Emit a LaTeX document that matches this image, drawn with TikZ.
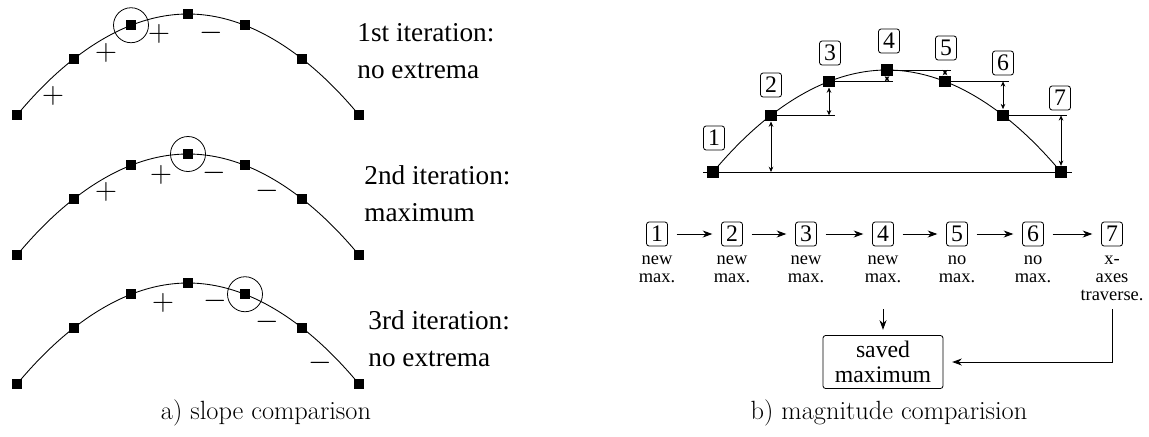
\documentclass[tikz,border=0pt]{standalone}
\usepackage{fontspec}
\newfontfamily\tmsfont{Liberation Serif}
\usepackage{tikz}
\usetikzlibrary{arrows.meta,positioning}

\begin{document}
\begin{tikzpicture}[x=0.2mm, y=-0.2mm, line width=0.5pt,
  pt/.style={fill=black, inner sep=0pt, minimum size=2mm},
  bigpt/.style={pt, minimum size=2.3mm},
  ring/.style={draw, circle, inner sep=0pt, minimum size=7mm, line width=0.45pt},
  sgn/.style={inner sep=0pt, font=\fontsize{17}{17}\selectfont},
  iter/.style={anchor=west, align=left, inner sep=0pt, font=\tmsfont\fontsize{15.5}{21}\selectfont},
  numbox/.style={draw, rounded corners=1.5pt, inner sep=0pt, minimum width=4.2mm, minimum height=4.8mm, line width=0.45pt, font=\tmsfont\fontsize{13.5}{13.5}\selectfont},
  note/.style={align=center, inner sep=0pt, font=\tmsfont\fontsize{10.5}{10.3}\selectfont},
  arr/.style={-{Stealth[length=5.5pt,width=4pt]}},
  dim/.style={{Stealth[length=3pt,width=2.6pt]}-{Stealth[length=3pt,width=2.6pt]}, line width=0.4pt},
  capt/.style={font=\fontsize{15}{18}\selectfont}]
\useasboundingbox (0,0) rectangle (1149,436);
% ---- (a) three passes over the same sampled curve
\foreach \r/\yt in {1/14, 2/154, 3/283} {
  \draw (17,\yt+101) parabola bend (188,\yt) (359,\yt+101);
  \foreach \i in {0,...,6}
    \node[pt] (p\r-\i) at ({17+57*\i},{\yt+101*(\i-3)*(\i-3)/9}) {};
}
\node[ring] (c1) at (p1-2) {};
\node[ring] (c2) at (p2-3) {};
\node[ring] (c3) at (p3-4) {};
% slope signs
\node[sgn] (s1a) at (53,96) {$+$};
\node[sgn] (s1b) at (106,53) {$+$};
\node[sgn] (s1c) at (159,34) {$+$};
\node[sgn] (s1d) at (211,33) {$-$};
\node[sgn] (s2a) at (106,192) {$+$};
\node[sgn] (s2b) at (161,175) {$+$};
\node[sgn] (s2c) at (214,173) {$-$};
\node[sgn] (s2d) at (267,191) {$-$};
\node[sgn] (s3a) at (163,303) {$+$};
\node[sgn] (s3b) at (215,301) {$-$};
\node[sgn] (s3c) at (267,322) {$-$};
\node[sgn] (s3d) at (320,363) {$-$};
\node[iter] (it1) at (357,51) {1st iteration:\\no extrema};
\node[iter] (it2) at (364,194) {2nd iteration:\\maximum};
\node[iter] (it3) at (368,339) {3rd iteration:\\no extrema};
\node[capt] (capa) at (266,413) {a) slope comparison};
% ---- (b) heights measured against the previous sample
\draw (713,172) parabola bend (887,70) (1061,172);
\foreach \i in {1,...,7}
  \node[bigpt] (q\i) at ({655+58*\i},{70+102*(\i-4)*(\i-4)/9}) {};
\draw ([xshift=-2mm]q1.center) -- ([xshift=2.2mm]q7.center);
\foreach \i/\j in {2/3,3/4,4/5,5/6,6/7}
  \draw (q\i.center) -- ([xshift=1.2mm]q\j.center |- q\i.center);
\foreach \i/\j in {1/2,2/3,3/4}
  \draw[dim] (q\j.center |- q\i.center) -- (q\j.south);
\foreach \i/\j in {4/5,5/6,6/7}
  \draw[dim] (q\j.center |- q\i.center) -- (q\j.north);
\foreach \i/\xx/\yy in {1/714/138, 2/771/85, 3/830/53, 4/889/41, 5/946/48, 6/1003/63, 7/1060/98}
  \node[numbox] (n\i) at (\xx,\yy) {\i};
% sequence of comparisons
\foreach \i/\xx in {1/657, 2/732, 3/806, 4/883, 5/957, 6/1033, 7/1112}
  \node[numbox] (r\i) at (\xx,234) {\i};
\foreach \i/\j in {1/2,2/3,3/4,4/5,5/6,6/7}
  \draw[arr, shorten <=5pt, shorten >=5pt] (r\i) -- (r\j);
\foreach \i/\txt in {1/new\\max., 2/new\\max., 3/new\\max., 4/new\\max., 5/no\\max., 6/no\\max., 7/x-\\axes\\traverse.}
  \node[note, below=1.8mm of r\i] (l\i) {\txt};
\node[draw, rounded corners=1.5pt, align=center, minimum width=24mm, minimum height=10.2mm, line width=0.45pt,
  font=\tmsfont\fontsize{13.5}{14}\selectfont] (saved) at (883,362) {saved\\maximum};
\draw[arr, shorten <=1.6mm, shorten >=3pt] (l4.south |- l7.south) -- (l4.south |- saved.north);
\draw[arr, shorten <=1.6mm, shorten >=5pt] (l7.south) |- (saved.east);
\node[capt] (capb) at (889,413) {b) magnitude comparision};
\end{tikzpicture}
\end{document}
